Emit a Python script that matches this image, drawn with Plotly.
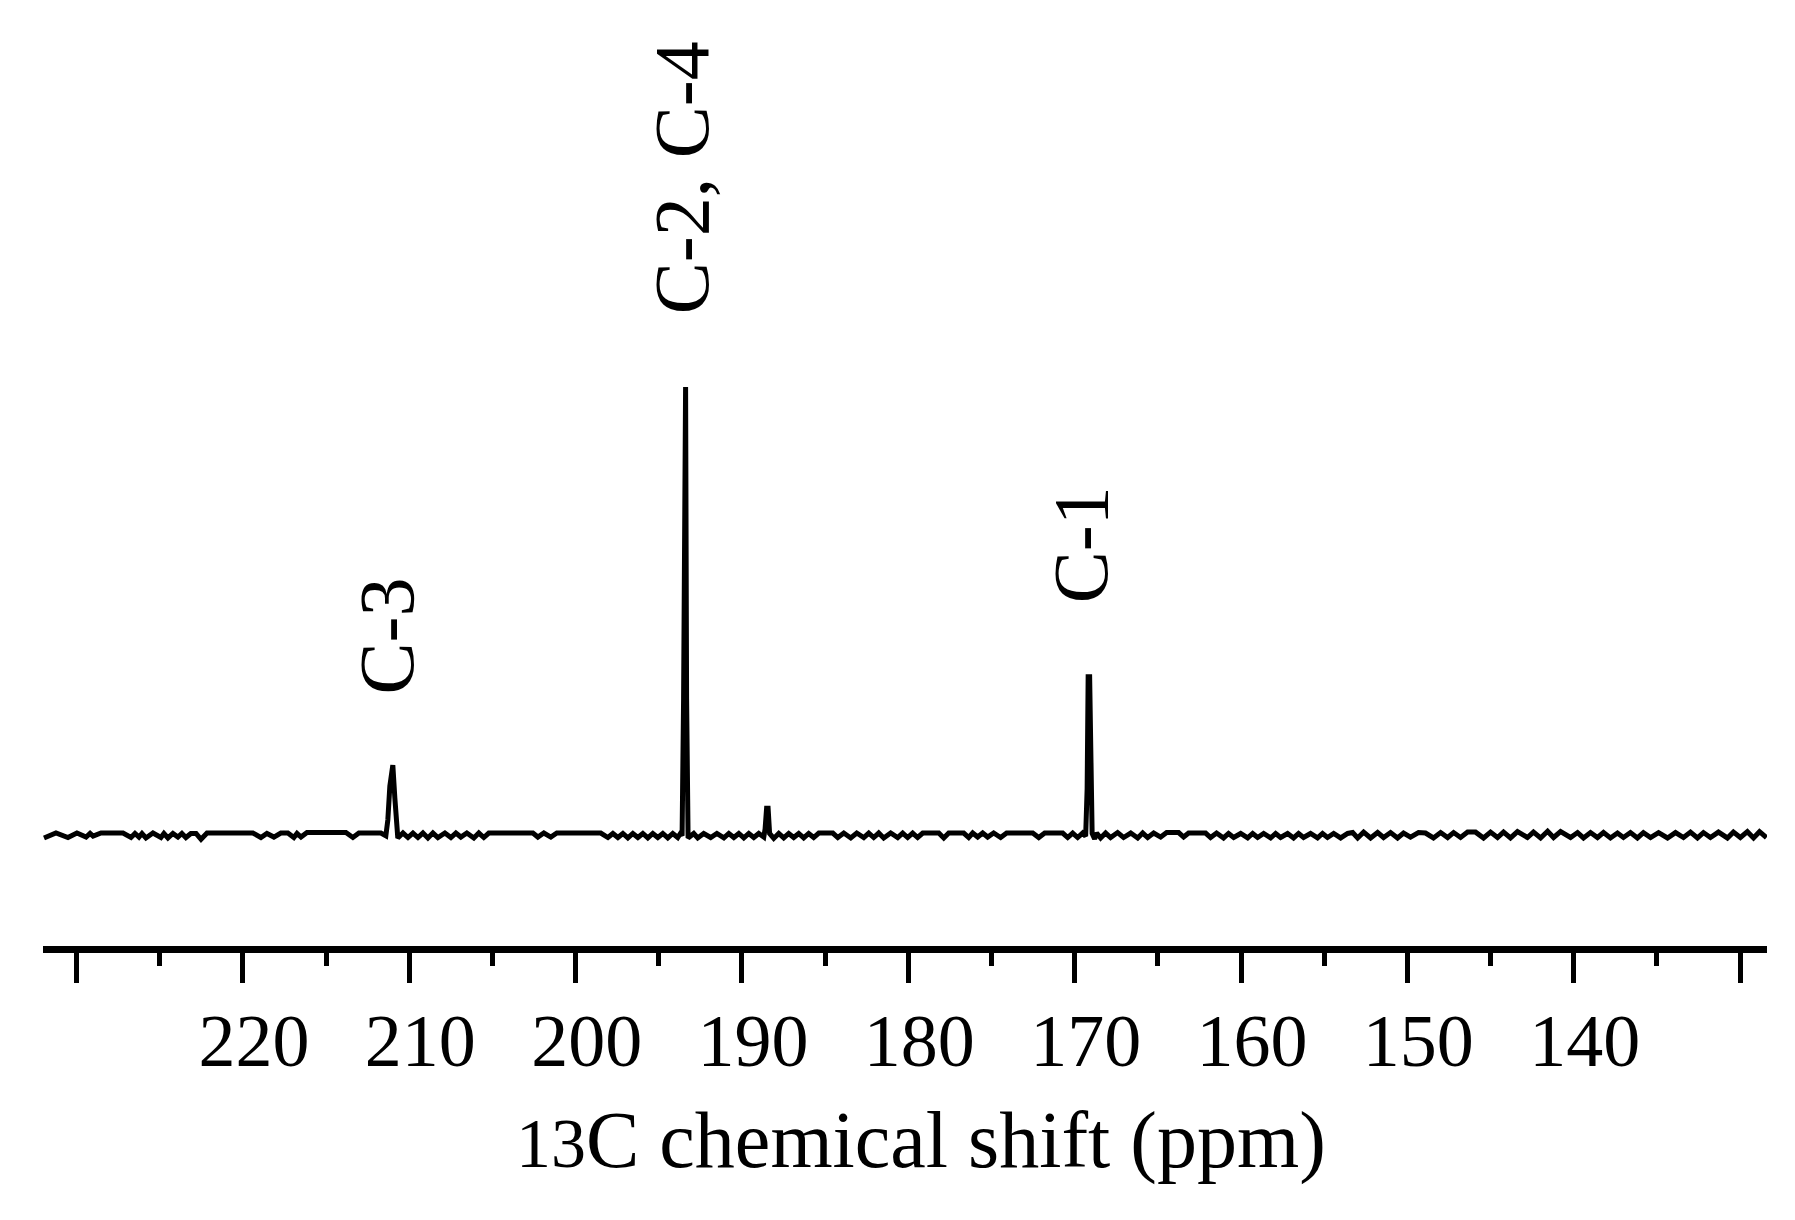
import plotly.graph_objects as go

# 13C NMR spectrum (ppm, relative intensity; C-2/C-4 peak ~ 100)
ppm = [
    231.96, 231.24, 230.52, 229.98, 229.43, 229.19, 229.01, 228.53, 227.21, 226.73,
    226.49, 226.25, 226.07, 225.83, 225.41, 224.93, 224.75, 224.51, 224.21, 223.91,
    223.67, 223.43, 223.13, 222.82, 222.52, 222.16, 219.40, 218.92, 218.56, 218.14,
    217.72, 217.30, 216.94, 216.75, 216.51, 216.15, 213.81, 213.39, 213.03, 211.71,
    211.41, 211.29, 211.17, 211.05, 210.99, 210.87, 210.75, 210.69, 210.38, 210.08,
    209.78, 209.48, 209.18, 208.88, 208.58, 208.28, 207.86, 207.50, 207.20, 206.90,
    206.54, 206.12, 205.82, 205.52, 205.22, 202.57, 202.27, 201.91, 201.49, 201.13,
    198.49, 198.06, 197.76, 197.46, 197.16, 196.86, 196.56, 196.26, 195.96, 195.66,
    195.36, 195.06, 194.76, 194.46, 194.16, 193.86, 193.70, 193.60, 193.51, 193.45,
    193.39, 193.33, 193.24, 192.90, 192.66, 192.30, 191.88, 191.51, 191.09, 190.79,
    190.49, 190.19, 189.89, 189.59, 189.29, 188.99, 188.69, 188.61, 188.52, 188.43,
    188.34, 188.09, 187.79, 187.49, 187.19, 186.89, 186.59, 186.29, 185.99, 185.69,
    185.38, 184.54, 184.24, 183.88, 183.46, 183.10, 182.68, 182.38, 182.08, 181.78,
    181.48, 181.06, 180.64, 180.34, 180.04, 179.74, 179.44, 179.13, 178.17, 177.87,
    177.57, 176.67, 176.37, 176.13, 175.83, 175.53, 175.23, 174.87, 174.45, 174.09,
    172.52, 172.16, 171.80, 170.72, 170.42, 170.12, 169.82, 169.52, 169.34, 169.25,
    169.19, 169.10, 169.04, 168.95, 168.80, 168.68, 168.44, 168.14, 167.84, 167.42,
    167.06, 166.63, 166.21, 165.91, 165.61, 165.25, 164.83, 164.47, 163.75, 163.45,
    163.15, 162.13, 161.83, 161.47, 161.05, 160.75, 160.44, 160.02, 159.60, 159.30,
    159.00, 158.64, 158.22, 157.92, 157.62, 157.20, 156.84, 156.54, 156.24, 155.82,
    155.40, 155.10, 154.80, 154.43, 154.01, 153.59, 153.29, 152.99, 152.63, 152.21,
    151.79, 151.43, 151.01, 150.59, 150.23, 149.81, 149.33, 148.91, 148.43, 148.00,
    147.58, 147.22, 146.80, 146.38, 145.90, 145.42, 145.00, 144.58, 144.22, 143.80,
    143.38, 142.78, 142.42, 141.99, 141.57, 141.21, 140.79, 140.19, 139.77, 139.41,
    138.99, 138.57, 138.21, 137.79, 137.37, 137.01, 136.59, 136.17, 135.81, 135.38,
    134.90, 134.36, 133.88, 133.40, 132.98, 132.56, 132.20, 131.78, 131.30, 130.76,
    130.40, 129.98, 129.56, 129.19, 128.83, 128.41,
]
intensity = [
    -1.0, 0.1, -0.9, 0.1, -0.8, 0.0, -0.6, 0.1, 0.1, -0.9,
    0.0, -0.8, 0.0, -1.0, 0.1, -0.9, 0.0, -1.0, 0.0, -0.8,
    0.0, -0.9, 0.0, 0.0, -1.3, 0.1, 0.1, -0.9, 0.0, -0.8,
    0.1, 0.1, -0.9, 0.0, -0.8, 0.2, 0.2, -0.9, 0.1, 0.1,
    -0.5, 3.0, 10.5, 15.2, 15.2, 8.0, 0.0, -1.0, 0.1, -0.9,
    0.1, -0.9, 0.1, -1.0, 0.1, -0.9, 0.1, -0.9, 0.1, -0.8,
    0.1, -1.0, 0.1, -0.9, 0.1, 0.1, -0.8, 0.1, -0.8, 0.1,
    0.1, -0.9, 0.0, -0.9, 0.0, -1.0, 0.0, -0.9, 0.0, -1.0,
    0.0, -0.9, 0.0, -1.0, 0.0, -0.9, 0.0, -0.5, 30.0, 99.4,
    99.4, 30.0, -1.0, 0.0, -1.0, 0.0, -0.9, 0.0, -1.0, 0.0,
    -0.9, 0.0, -1.0, 0.0, -0.9, 0.0, -0.8, 1.0, 5.6, 5.6,
    0.0, -1.1, 0.0, -1.0, 0.0, -0.9, 0.0, -1.0, 0.0, -0.9,
    0.1, 0.1, -0.9, 0.1, -1.0, 0.1, -0.9, 0.1, -0.9, 0.1,
    -1.0, 0.1, -0.9, 0.1, -0.9, 0.1, -0.9, 0.1, 0.1, -1.0,
    0.1, 0.1, -0.9, 0.1, -0.8, 0.1, -0.8, 0.1, -0.9, 0.1,
    0.1, -0.9, 0.1, 0.1, -0.9, 0.1, -0.9, 0.1, -0.6, 10.0,
    34.9, 34.9, 10.0, 0.0, -1.2, 0.1, -1.0, 0.1, -0.9, 0.2,
    -0.9, 0.1, -1.0, 0.1, -0.9, 0.1, -0.8, 0.2, 0.2, -0.8,
    0.1, 0.1, -0.9, 0.1, -1.0, 0.0, -0.9, 0.0, -1.0, 0.0,
    -0.9, 0.0, -1.0, 0.0, -0.9, 0.0, -1.0, 0.0, -0.9, 0.0,
    -1.0, 0.0, -0.9, 0.0, -1.0, 0.0, 0.2, -1.0, 0.3, -1.0,
    0.2, -0.9, 0.2, -1.0, 0.1, -0.8, 0.2, 0.1, -1.0, 0.2,
    -0.9, 0.2, -0.9, 0.3, 0.3, -1.0, 0.3, -0.9, 0.3, -1.0,
    0.4, -0.9, 0.3, -1.0, 0.5, -0.9, 0.4, -0.9, 0.2, -1.0,
    0.2, -0.9, 0.2, -1.0, 0.1, -0.9, 0.2, -1.0, 0.2, -0.9,
    0.2, -1.0, 0.2, -0.9, 0.3, -1.0, 0.2, -0.9, 0.3, -1.0,
    0.3, -0.9, 0.4, -1.0, 0.4, -0.9,
]

peak_labels = ["C-3", "C-2, C-4", "C-1"]
label_ppm = [211.36, 193.64, 169.68]
label_y = [44.0, 146.0, 64.4]

major_ticks = [230, 220, 210, 200, 190, 180, 170, 160, 150, 140, 130]
major_text = ["", "220", "210", "200", "190", "180", "170", "160", "150", "140", ""]
minor_ticks = [225, 215, 205, 195, 185, 175, 165, 155, 145, 135]

axis_title = '<span style="font-size:70px">13</span>C chemical shift (ppm)'

FONT = "Liberation Serif, Times New Roman, serif"

fig = go.Figure()
fig.add_trace(go.Scatter(
    x=ppm, y=intensity, mode="lines",
    line=dict(color="black", width=5),
    showlegend=False, hoverinfo="skip",
))

for txt, xv, yv in zip(peak_labels, label_ppm, label_y):
    fig.add_annotation(
        x=xv, y=yv, xref="x", yref="y", text=txt, showarrow=False,
        textangle=-90, xanchor="center", yanchor="middle",
        font=dict(family=FONT, size=78, color="black"),
    )

fig.add_annotation(
    x=0.5093, y=-0.207, xref="paper", yref="paper", text=axis_title,
    showarrow=False, xanchor="center", yanchor="middle",
    font=dict(family=FONT, size=80, color="black"),
)

fig.update_layout(
    width=1795, height=1220,
    paper_bgcolor="white", plot_bgcolor="white",
    margin=dict(l=35, r=36, t=0, b=282),
    font=dict(family=FONT, size=74, color="black"),
    xaxis=dict(
        range=[232.02, 128.38],
        showgrid=False, zeroline=False,
        showline=True, linecolor="black", linewidth=7,
        ticks="outside", ticklen=30, tickwidth=5, tickcolor="black",
        tickmode="array", tickvals=major_ticks, ticktext=major_text,
        tickfont=dict(family=FONT, size=74, color="black"),
        ticklabelstandoff=-6, ticklabelshift=-11,
        minor=dict(tickmode="array", tickvals=minor_ticks, ticks="outside",
                   ticklen=13, tickwidth=5, tickcolor="black", showgrid=False),
    ),
    yaxis=dict(range=[-25.06, 183.83], visible=False, showgrid=False, zeroline=False),
)

fig.write_html("out.html")
